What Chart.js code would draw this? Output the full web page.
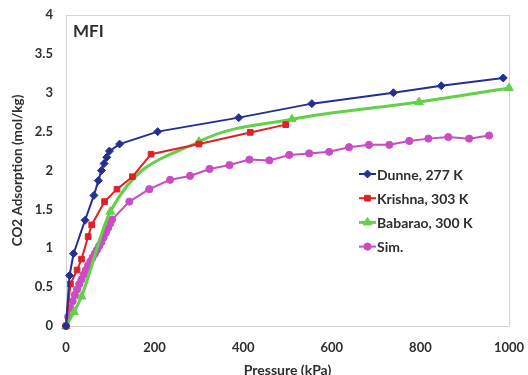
<!DOCTYPE html>
<html>
<head>
<meta charset="utf-8">
<script src="https://cdn.jsdelivr.net/npm/chart.js@4/dist/chart.umd.min.js"></script>
<style>
  html, body { margin: 0; padding: 0; background: #ffffff; }
  #wrap { width: 528px; height: 375px; }
</style>
</head>
<body>
<div id="wrap"><canvas id="c" width="528" height="375"></canvas></div>
<script>
// CO2 adsorption isotherms in MFI: pressure (kPa) vs uptake (mol/kg)
const dunneP = [0, 8, 17, 43, 63, 73, 80, 86, 92, 98, 121, 207, 390, 555, 739, 847, 987];
const dunneQ = [0, 0.65, 0.93, 1.36, 1.68, 1.87, 2.0, 2.09, 2.17, 2.25, 2.34, 2.5, 2.68, 2.86, 3.0, 3.09, 3.19];

const krishnaP = [0, 10, 25, 35, 50, 58, 87, 115, 150, 192, 300, 416, 496];
const krishnaQ = [0, 0.54, 0.72, 0.86, 1.15, 1.3, 1.6, 1.76, 1.92, 2.21, 2.34, 2.49, 2.59];

const babaraoP = [0, 18, 35, 100, 300, 510, 797, 1000];
const babaraoQ = [0, 0.18, 0.38, 1.47, 2.37, 2.66, 2.88, 3.06];

const simP = [0, 5, 10, 15, 20, 25, 30, 35, 40, 45, 50, 55, 60, 65, 70, 75, 80, 85, 90, 95, 100, 104,
              143, 188, 235, 280, 324, 369, 414, 459, 504, 549, 594, 639, 684, 730, 775, 818, 863, 910, 955];
const simQ = [0, 0.12, 0.23, 0.32, 0.4, 0.47, 0.54, 0.6, 0.66, 0.72, 0.78, 0.83, 0.88, 0.93, 0.98, 1.03, 1.08, 1.14, 1.2, 1.26, 1.32, 1.37,
              1.6, 1.76, 1.88, 1.93, 2.02, 2.07, 2.14, 2.13, 2.2, 2.22, 2.24, 2.3, 2.33, 2.33, 2.38, 2.41, 2.43, 2.41, 2.45];

const seriesNames = ['Dunne, 277 K', 'Krishna, 303 K', 'Babarao, 300 K', 'Sim.'];
const xTicks = [0, 200, 400, 600, 800, 1000];
const yTicks = [0, 0.5, 1, 1.5, 2, 2.5, 3, 3.5, 4];

const pairs = (xs, ys) => xs.map((x, i) => ({ x: x, y: ys[i] }));

const FONT = 'Lato, "Open Sans", sans-serif';
const TEXT = '#2e2e2e';

// plot-area frame
const framePlugin = {
  id: 'frame',
  beforeDatasetsDraw(chart) {
    const { ctx, chartArea: a } = chart;
    ctx.save();
    ctx.strokeStyle = '#d4d4d4';
    ctx.lineWidth = 1;
    ctx.strokeRect(Math.round(a.left) + 0.5, Math.round(a.top) + 0.5,
                   Math.round(a.right - a.left), Math.round(a.bottom - a.top));
    ctx.restore();
  }
};

// panel label and inset legend
const annotatePlugin = {
  id: 'annotate',
  afterDraw(chart) {
    const { ctx } = chart;
    ctx.save();
    ctx.fillStyle = TEXT;
    ctx.font = 'bold 17px ' + FONT;
    ctx.textBaseline = 'middle';
    ctx.textAlign = 'left';
    ctx.fillText('MFI', 73, 32);

    chart.data.datasets.forEach((ds, i) => {
      const y = 174 + i * 24.2;
      ctx.strokeStyle = ds.borderColor;
      ctx.lineWidth = ds.borderWidth;
      ctx.beginPath();
      ctx.moveTo(359, y);
      ctx.lineTo(376, y);
      ctx.stroke();
      ctx.fillStyle = ds.pointBackgroundColor;
      ctx.strokeStyle = ds.borderColor;
      ctx.lineWidth = 1;
      Chart.helpers.drawPoint(ctx, { pointStyle: ds.pointStyle, radius: ds.pointRadius, borderWidth: 1, rotation: 0 }, 367.5, y);
      ctx.fillStyle = TEXT;
      ctx.font = 'bold 14px ' + FONT;
      ctx.fillText(ds.label, 377, y + 1);
    });
    ctx.restore();
  }
};

const datasets = [
  { label: seriesNames[0], data: pairs(dunneP, dunneQ), borderColor: '#23308f', pointBackgroundColor: '#23308f',
    borderWidth: 2, pointStyle: 'rectRot', pointRadius: 4, tension: 0 },
  { label: seriesNames[1], data: pairs(krishnaP, krishnaQ), borderColor: '#e31f26', pointBackgroundColor: '#e31f26',
    borderWidth: 2, pointStyle: 'rect', pointRadius: 4, tension: 0 },
  { label: seriesNames[2], data: pairs(babaraoP, babaraoQ), borderColor: '#62d048', pointBackgroundColor: '#62d048',
    borderWidth: 3, pointStyle: 'triangle', pointRadius: 5, cubicInterpolationMode: 'monotone' },
  { label: seriesNames[3], data: pairs(simP, simQ), borderColor: '#c94cc4', pointBackgroundColor: '#c94cc4',
    borderWidth: 2, pointStyle: 'circle', pointRadius: 3.6, tension: 0 }
].map(d => Object.assign(d, { pointBorderColor: d.borderColor, pointBorderWidth: 1, fill: false, clip: false }));

new Chart(document.getElementById('c'), {
  type: 'line',
  data: { datasets: datasets },
  options: {
    responsive: false,
    animation: false,
    devicePixelRatio: 1,
    layout: { padding: { top: 15, right: 19, left: 0, bottom: 0 } },
    plugins: { legend: { display: false }, tooltip: { enabled: false } },
    scales: {
      x: {
        type: 'linear', min: 0, max: 1000,
        afterBuildTicks(s) { s.ticks = xTicks.map(v => ({ value: v })); },
        afterFit(s) { s.height = 49; s.paddingLeft = 0; s.paddingRight = 0; },
        grid: { display: false, drawTicks: false },
        border: { display: false },
        ticks: { padding: 14, color: TEXT, font: { family: FONT, size: 13, weight: 'bold' }, maxRotation: 0,
                 callback: v => String(v) },
        title: { display: true, text: 'Pressure (kPa)', color: TEXT,
                 font: { family: FONT, size: 14, weight: 'bold', lineHeight: 0.7 }, padding: { top: 0, bottom: 0 } }
      },
      y: {
        type: 'linear', min: 0, max: 4,
        afterBuildTicks(s) { s.ticks = yTicks.map(v => ({ value: v })); },
        afterFit(s) { s.width = 66; s.paddingTop = 0; s.paddingBottom = 0; },
        grid: { display: false, drawTicks: false },
        border: { display: false },
        ticks: { padding: 13, color: TEXT, font: { family: FONT, size: 13, weight: 'bold' },
                 callback: v => String(v) },
        title: { display: true, text: 'CO2 Adsorption (mol/kg)', color: TEXT,
                 font: { family: FONT, size: 13.5, weight: 'bold', lineHeight: 1.2 }, padding: { top: 10, bottom: 0 } }
      }
    }
  },
  plugins: [framePlugin, annotatePlugin]
});
</script>
</body>
</html>
